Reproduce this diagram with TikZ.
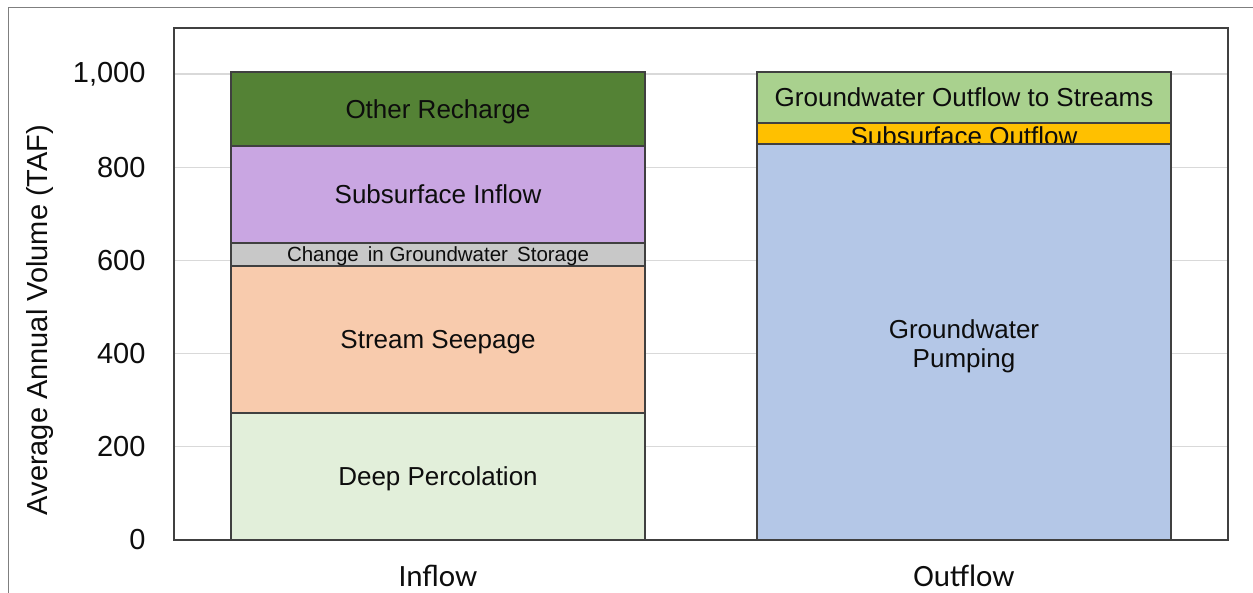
\documentclass[tikz,border=0pt]{standalone}
\usepackage{fontspec}
\setmainfont{Liberation Sans}
\newfontfamily\catfont{Carlito}
\usetikzlibrary{calc}

% colours of the stacked segments
\definecolor{cOther}{HTML}{548235}
\definecolor{cSubIn}{HTML}{C9A6E2}
\definecolor{cStore}{HTML}{C8C8C8}
\definecolor{cSeep}{HTML}{F8CBAD}
\definecolor{cDeep}{HTML}{E2EFDA}
\definecolor{cGwOut}{HTML}{A9D18E}
\definecolor{cSubOut}{HTML}{FFC000}
\definecolor{cPump}{HTML}{B4C7E7}
\definecolor{cEdge}{HTML}{404040}
\definecolor{cGrid}{HTML}{D9D9D9}
\definecolor{cFrame}{HTML}{7F7F7F}
\definecolor{cText}{HTML}{0D0D0D}

% one bar segment: name, x centre, lower value, upper value, fill
\newcommand\barseg[5]{%
  \node[seg,fill=#5,minimum height={(#4-#3)*0.466}] (#1)
    at (#2,{52+(#3+#4)*0.233}) {};}

\begin{document}
\begin{tikzpicture}[x=1pt,y=1pt,
  seg/.style={draw=cEdge,line width=1.6pt,minimum width=414,inner sep=0pt},
  seglbl/.style={text=cText,inner sep=0pt,font=\fontsize{26}{29}\selectfont,
    text height=18.6pt,text depth=0pt},
  smalllbl/.style={text=cText,inner sep=0pt,font=\fontsize{20.5}{22}\selectfont,
    text height=14.7pt,text depth=0pt},
  tick/.style={anchor=east,text=cText,font=\fontsize{29}{32}\selectfont},
  cat/.style={anchor=base,inner sep=0pt,text=cText,font=\catfont\fontsize{31}{34}\selectfont},
  grid/.style={draw=cGrid,line width=1.3pt}]
\useasboundingbox (0,0) rectangle (1253,592);

% outer chart frame
\coordinate (fbl) at (8,-5);
\coordinate (ftl) at (8,584);
\coordinate (ftr) at (1260,584);
\draw[cFrame,line width=1pt] (fbl) -- (ftl) -- (ftr);

% plot area and horizontal gridlines
\coordinate (pbl) at (174,52);
\coordinate (ptr) at (1228,564);
\foreach \v in {200,400,600,800,1000}{
  \coordinate (gl\v) at (174,{52+0.466*\v});
  \coordinate (gr\v) at (1228,{52+0.466*\v});
  \draw[grid] (gl\v) -- (gr\v);
}

% inflow bar
\barseg{deep}{438}{0}{272}{cDeep}
\barseg{seep}{438}{272}{588}{cSeep}
\barseg{store}{438}{588}{637}{cStore}
\barseg{subin}{438}{637}{845}{cSubIn}
\barseg{other}{438}{845}{1004}{cOther}
\node[seglbl] (deeplbl) at (deep.center) {Deep Percolation};
\node[seglbl] (seeplbl) at (seep.center) {Stream Seepage};
\node[smalllbl] (storelbl) at (store.center) {Change\,\ in Groundwater\,\ Storage};
\node[seglbl] (subinlbl) at (subin.center) {Subsurface Inflow};
\node[seglbl] (otherlbl) at (other.center) {Other Recharge};

% outflow bar
\barseg{gwout}{964}{895}{1004}{cGwOut}
\barseg{subout}{964}{850}{895}{cSubOut}
\node[seglbl] (gwoutlbl) at (gwout.center) {Groundwater Outflow to Streams};
\node[seglbl] (suboutlbl) at ($(subout.center)+(0,-2.5)$) {Subsurface Outflow};
\barseg{pump}{964}{0}{850}{cPump}
\node[text=cText,inner sep=0pt,align=center,font=\fontsize{26}{29}\selectfont]
  (pumplbl) at ($(pump.center)+(0,-4.5)$) {Groundwater\\Pumping};

% plot area border drawn over the bars
\draw[cEdge,line width=2pt] (pbl) rectangle (ptr);

% value axis
\foreach \v/\t in {0/0,200/200,400/400,600/600,800/800,1000/{1,000}}{
  \node[tick] (tk\v) at (149,{52+0.466*\v}) {\t};
}
\node[rotate=90,text=cText,font=\fontsize{29}{32}\selectfont]
  (ytitle) at (40,272) {Average Annual Volume (TAF)};

% category labels
\node[cat] (catin) at (438,6) {Inflow};
\node[cat] (catout) at (964,6) {Outflow};
\end{tikzpicture}
\end{document}
